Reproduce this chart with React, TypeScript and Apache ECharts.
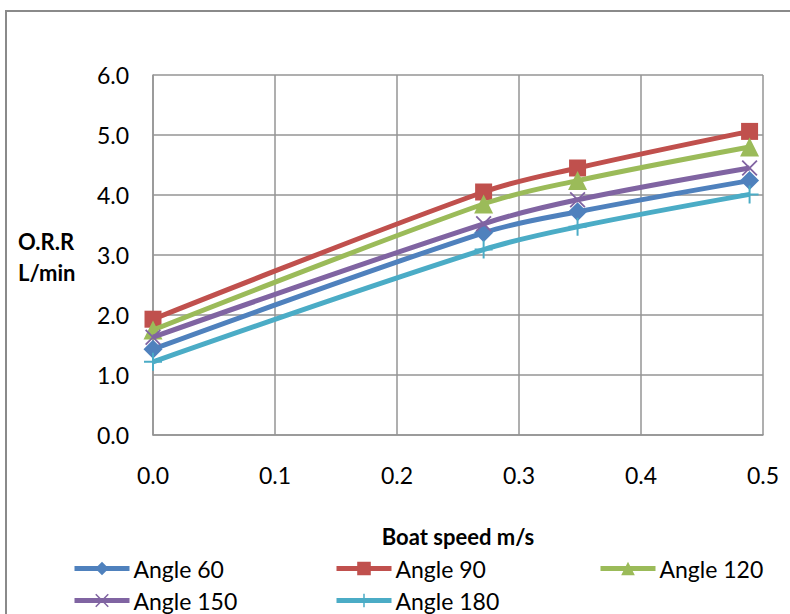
import React, { useEffect, useRef } from "react";
import * as echarts from "echarts";

const speeds = [0, 0.271, 0.348, 0.489];
const angle60 = [1.43, 3.37, 3.72, 4.24];
const angle90 = [1.93, 4.05, 4.45, 5.06];
const angle120 = [1.75, 3.85, 4.24, 4.8];
const angle150 = [1.63, 3.52, 3.92, 4.45];
const angle180 = [1.22, 3.09, 3.47, 4.01];
const seriesNames = ["Angle 60", "Angle 90", "Angle 120", "Angle 150", "Angle 180"];

const X_PATH =
  "path://M0,0.8 L0.8,0 L5,4.2 L9.2,0 L10,0.8 L5.8,5 L10,9.2 L9.2,10 L5,5.8 L0.8,10 L0,9.2 L4.2,5 Z";
const PLUS_PATH =
  "path://M4.45,0 L5.55,0 L5.55,4.45 L10,4.45 L10,5.55 L5.55,5.55 L5.55,10 L4.45,10 L4.45,5.55 L0,5.55 L0,4.45 L4.45,4.45 Z";

const FONT = "Lato, 'Open Sans', sans-serif";

export default function App() {
  const ref = useRef<HTMLDivElement>(null);
  useEffect(() => {
    const chart = echarts.init(ref.current!, null, { renderer: "svg" });
    const values = [angle60, angle90, angle120, angle150, angle180];
    const colors = ["#4F81BD", "#C0504D", "#9BBB59", "#8064A2", "#4BACC6"];
    const symbols = ["diamond", "rect", "triangle", X_PATH, PLUS_PATH];
    const sizes = [19, 17, 19, 16, 18];
    const legendPos = [
      { left: 72, top: 557 },
      { left: 334, top: 557 },
      { left: 598, top: 557 },
      { left: 72, top: 589 },
      { left: 334, top: 589 },
    ];
    const gridColor = "#949494";
    chart.setOption({
      animation: false,
      backgroundColor: "#ffffff",
      grid: { left: 153, right: 27, top: 75, bottom: 179, containLabel: false },
      xAxis: {
        type: "value",
        min: 0,
        max: 0.5,
        interval: 0.1,
        axisLine: { show: true, lineStyle: { color: gridColor, width: 1.5 } },
        axisTick: { show: false },
        splitLine: { show: true, lineStyle: { color: gridColor, width: 1.5 } },
        axisLabel: {
          margin: 28,
          fontSize: 23,
          fontFamily: FONT,
          color: "#000",
          formatter: (v: number) => v.toFixed(1),
        },
        name: "Boat speed m/s",
        nameLocation: "middle",
        nameGap: 90,
        nameTextStyle: { fontSize: 22, fontWeight: "bold", fontFamily: FONT, color: "#000" },
      },
      yAxis: {
        type: "value",
        min: 0,
        max: 6,
        interval: 1,
        axisLine: { show: true, lineStyle: { color: gridColor, width: 1.5 } },
        axisTick: { show: false },
        splitLine: { show: true, lineStyle: { color: gridColor, width: 1.5 } },
        axisLabel: {
          margin: 24,
          fontSize: 23,
          fontFamily: FONT,
          color: "#000",
          formatter: (v: number) => v.toFixed(1),
        },
      },
      legend: seriesNames.map((n, i) => ({
        data: [n],
        left: legendPos[i].left,
        top: legendPos[i].top,
        padding: 0,
        itemWidth: 55,
        itemHeight: 17,
        itemGap: 4,
        selectedMode: false,
        lineStyle: { width: 5 },
        textStyle: { fontSize: 23, fontFamily: FONT, color: "#000", padding: [0, 0, 0, -1] },
      })),
      graphic: [
        {
          type: "rect",
          shape: { x: 6, y: 11, width: 820, height: 700 },
          style: { fill: "none", stroke: "#8a8a8a", lineWidth: 2 },
          silent: true,
          z: -10,
        },
        {
          type: "text",
          left: 18,
          top: 226,
          style: {
            text: "O.R.R\nL/min",
            fontSize: 22,
            fontWeight: "bold",
            fontFamily: FONT,
            fill: "#000",
            align: "center",
            lineHeight: 31,
          },
        },
      ],
      series: seriesNames.map((n, i) => ({
        name: n,
        type: "line",
        smooth: 0.35,
        data: speeds.map((s, j) => [s, values[i][j]]),
        symbol: symbols[i],
        symbolSize: sizes[i],
        showAllSymbol: true,
        lineStyle: { color: colors[i], width: 5 },
        itemStyle: { color: colors[i], borderWidth: 0 },
        z: 2 + i,
      })),
    });
    return () => chart.dispose();
  }, []);
  return (
    <div
      ref={ref}
      style={{ position: "absolute", left: 0, top: 0, width: 790, height: 614, background: "#fff" }}
    />
  );
}
